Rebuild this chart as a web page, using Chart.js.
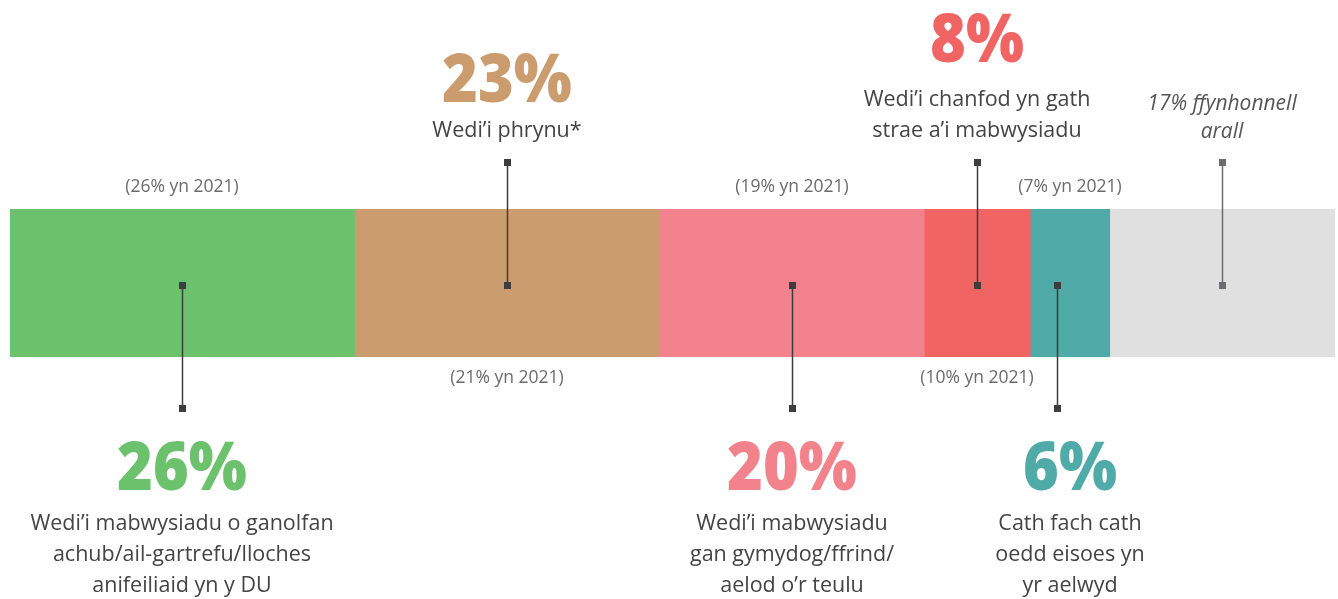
<!DOCTYPE html>
<html>
<head>
<meta charset="utf-8">
<script src="https://cdn.jsdelivr.net/npm/chart.js@4"></script>
<style>
  html, body { margin: 0; padding: 0; background: #fff; }
  #wrap { width: 1338px; height: 599px; }
</style>
</head>
<body>
<div id="wrap"><canvas id="myChart"></canvas></div>
<script>
const categories = [
    ['Wedi’i mabwysiadu o ganolfan', 'achub/ail-gartrefu/lloches', 'anifeiliaid yn y DU'],
    ['Wedi’i phrynu*'],
    ['Wedi’i mabwysiadu', 'gan gymydog/ffrind/', 'aelod o’r teulu'],
    ['Wedi’i chanfod yn gath', 'strae a’i mabwysiadu'],
    ['Cath fach cath', 'oedd eisoes yn', 'yr aelwyd'],
    ['17% ffynhonnell', 'arall']
];
const values = [26, 23, 20, 8, 6, 17];
const values2021 = [26, 21, 19, 10, 7, null];
const colors = ['#6cc16c', '#cb9c6d', '#f2838d', '#f06464', '#50aaa8', '#e0e0e0'];

// annotation layout: which side of the bar each label sits
const side = ['below', 'above', 'below', 'above', 'below', 'above'];

const annotations = {
    id: 'annotations',
    afterDatasetsDraw(chart) {
        const c = chart.ctx;
        const x = chart.scales.x;
        const area = chart.chartArea;
        let cum = 0;
        c.save();
        c.textAlign = 'center';
        values.forEach((v, i) => {
            const cx = Math.round(x.getPixelForValue(cum + v / 2));
            const lx = i === 4 ? cx - 13 : cx;
            const mid = Math.round((area.top + area.bottom) / 2) + 2;
            const up = side[i] === 'above';
            const y1 = up ? area.top - 47 : mid;
            const y2 = up ? mid : area.bottom + 51;
            const lineCol = i === 5 ? '#6d6d70' : '#3d3d3d';

            // connector with square ends
            c.strokeStyle = lineCol;
            c.lineWidth = 1.5;
            c.beginPath();
            c.moveTo(lx + 0.5, y1);
            c.lineTo(lx + 0.5, y2);
            c.stroke();
            c.fillStyle = lineCol;
            c.fillRect(lx - 3, y1 - 3, 7, 7);
            c.fillRect(lx - 3, y2 - 3, 7, 7);

            // 2021 comparison
            if (values2021[i] !== null) {
                c.fillStyle = '#6b6b6b';
                c.font = '17.5px "Open Sans"';
                c.textBaseline = 'middle';
                const ty = side[i] === 'below' ? area.top - 22 : area.bottom + 21;
                c.fillText('(' + values2021[i] + '% yn 2021)', cx, ty);
            }

            c.textBaseline = 'alphabetic';
            const lines = categories[i];
            if (i === 5) {
                c.fillStyle = '#555';
                c.font = 'italic 21px "Open Sans"';
                lines.forEach((t, k) => c.fillText(t, cx, 110 + k * 28));
            } else {
                let numY, textY;
                if (up) {
                    textY = 137 - (lines.length - 1) * 31;
                    numY = lines.length > 1 ? 62 : 102;
                } else {
                    numY = 490;
                    textY = 530;
                }
                c.fillStyle = colors[i];
                c.font = '800 68px "Open Sans"';
                c.save();
                c.translate(cx, numY);
                c.scale(0.9, 1);
                c.fillText(v + '%', 0, 0);
                c.restore();
                c.fillStyle = '#444';
                c.font = '21.5px "Open Sans"';
                lines.forEach((t, k) => c.fillText(t, cx, textY + k * 31));
            }
            cum += v;
        });
        c.restore();
    }
};

const ctx = document.getElementById('myChart').getContext('2d');
const myChart = new Chart(ctx, {
    type: 'bar',
    data: {
        labels: [''],
        datasets: values.map((v, i) => ({
            label: categories[i].join(' '),
            data: [v],
            backgroundColor: colors[i],
            borderWidth: 0,
            barPercentage: 1,
            categoryPercentage: 1
        }))
    },
    options: {
        indexAxis: 'y',
        responsive: true,
        maintainAspectRatio: false,
        animation: false,
        events: [],
        layout: {
            padding: { left: 10, right: 3, top: 209, bottom: 242 }
        },
        plugins: {
            legend: { display: false },
            tooltip: { enabled: false }
        },
        scales: {
            x: {
                stacked: true,
                min: 0,
                max: 100,
                display: false,
                grid: { display: false }
            },
            y: {
                stacked: true,
                display: false,
                grid: { display: false }
            }
        }
    },
    plugins: [annotations]
});
</script>
</body>
</html>
